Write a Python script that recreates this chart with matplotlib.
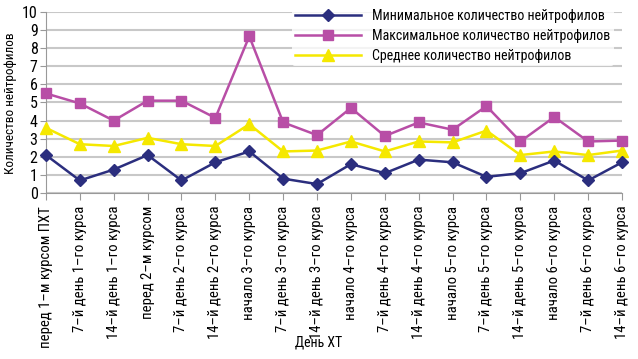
import matplotlib
matplotlib.use('Agg')
import matplotlib.pyplot as plt
import numpy as np

plt.rcParams['font.family'] = ['Roboto Condensed', 'DejaVu Sans']

# Дни химиотерапии
labels = ['перед 1–м курсом ПХТ', '7–й день 1–го курса', '14–й день 1–го курса',
          'перед 2–м курсом', '7–й день 2–го курса', '14–й день 2–го курса',
          'начало 3–го курса', '7–й день 3–го курса', '14–й день 3–го курса',
          'начало 4–го курса', '7–й день 4–го курса', '14–й день 4–го курса',
          'начало 5–го курса', '7–й день 5–го курса', '14–й день 5–го курса',
          'начало 6–го курса', '7–й день 6–го курса', '14–й день 6–го курса']

min_vals = [2.1, 0.7, 1.3, 2.1, 0.7, 1.7, 2.3, 0.8, 0.5,
            1.6, 1.1, 1.85, 1.7, 0.9, 1.1, 1.8, 0.7, 1.7]
max_vals = [5.5, 4.95, 4.0, 5.1, 5.1, 4.15, 8.65, 3.9, 3.2,
            4.7, 3.15, 3.9, 3.5, 4.8, 2.85, 4.2, 2.85, 2.9]
avg_vals = [3.6, 2.7, 2.6, 3.05, 2.7, 2.6, 3.8, 2.3, 2.35,
            2.85, 2.3, 2.85, 2.8, 3.45, 2.1, 2.3, 2.1, 2.35]

fig = plt.figure(figsize=(6.38, 3.59), dpi=100)
ax = fig.add_axes([0.072, 0.462, 0.903, 0.505])

x = np.arange(len(labels))
ax.plot(x, min_vals, color='#2b2e7e', marker='D', markersize=6, lw=1.8,
        label='Минимальное количество нейтрофилов', clip_on=False, zorder=5)
ax.plot(x, max_vals, color='#b84ea6', marker='s', markersize=6.5, lw=1.8,
        label='Максимальное количество нейтрофилов', clip_on=False, zorder=4)
ax.plot(x, avg_vals, color='#f5e800', marker='^', markersize=8, lw=1.8,
        label='Среднее количество нейтрофилов', clip_on=False, zorder=3)

ax.set_xlim(0, len(labels) - 1)
ax.set_ylim(0, 10)
ax.set_yticks(range(0, 11))
ax.set_xticks(x)
ax.set_xticklabels(labels, rotation=90, fontsize=10.6)
ax.tick_params(axis='y', labelsize=11.5, length=4, color='#999999', pad=2)
ax.tick_params(axis='x', length=5, color='#999999', pad=4, direction='out')
ax.yaxis.grid(True, color='#c8c8c8', lw=1.5)
ax.set_axisbelow(True)
for s in ['top', 'right']:
    ax.spines[s].set_visible(False)
for s in ['left', 'bottom']:
    ax.spines[s].set_color('#999999')

fig.text(0.017, 0.713, 'Количество нейтрофилов', fontsize=9.5, rotation=90,
         ha='center', va='center')
fig.text(0.5, 0.045, 'День ХТ', fontsize=10, ha='center', va='center')

leg = ax.legend(loc='upper right', bbox_to_anchor=(0.99, 1.045), frameon=True,
                facecolor='white', edgecolor='none', fontsize=10,
                handlelength=4.8, handletextpad=0.8, labelspacing=0.42,
                borderpad=0.2, borderaxespad=0.2)

fig.savefig('out.png', dpi=100)
